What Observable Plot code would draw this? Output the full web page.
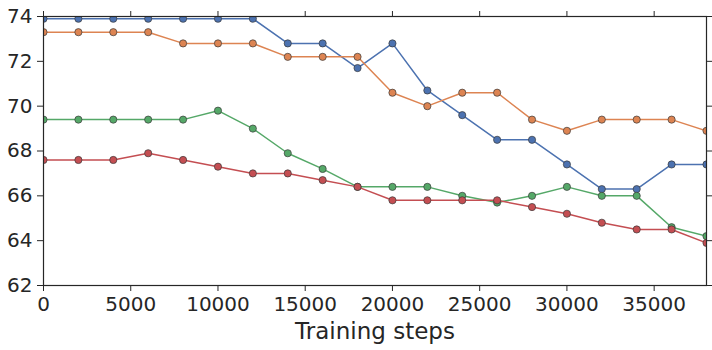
<!DOCTYPE html>
<html><head><meta charset="utf-8">
<script src="https://cdn.jsdelivr.net/npm/d3@7"></script>
<script src="https://cdn.jsdelivr.net/npm/@observablehq/plot@0.6"></script>
<style>
body{margin:0;background:#fff}
g[aria-label="x-axis label"] text{font-size:23px}
</style>
</head><body><div id="chart"></div>
<script>
const steps = [0,2000,4000,6000,8000,10000,12000,14000,16000,18000,20000,22000,24000,26000,28000,30000,32000,34000,36000,38000];
const seriesA = [73.9,73.9,73.9,73.9,73.9,73.9,73.9,72.8,72.8,71.7,72.8,70.7,69.6,68.5,68.5,67.4,66.3,66.3,67.4,67.4];
const seriesB = [73.3,73.3,73.3,73.3,72.8,72.8,72.8,72.2,72.2,72.2,70.6,70.0,70.6,70.6,69.4,68.9,69.4,69.4,69.4,68.9];
const seriesC = [69.4,69.4,69.4,69.4,69.4,69.8,69.0,67.9,67.2,66.4,66.4,66.4,66.0,65.7,66.0,66.4,66.0,66.0,64.6,64.2];
const seriesD = [67.6,67.6,67.6,67.9,67.6,67.3,67.0,67.0,66.7,66.4,65.8,65.8,65.8,65.8,65.5,65.2,64.8,64.5,64.5,63.9];
const seriesNames  = ["S1","S2","S3","S4"];
const seriesColors = ["#4C72B0","#DD8452","#55A868","#C44E52"];
const xTicks = [0,5000,10000,15000,20000,25000,30000,35000];
const yTicks = [62,64,66,68,70,72,74];

const valuesBySeries = [seriesA, seriesB, seriesC, seriesD];
const seriesMarks = [];
valuesBySeries.forEach((vals, i) => {
  const rows = steps.map((s, j) => ({step: s, value: vals[j], series: seriesNames[i]}));
  seriesMarks.push(Plot.line(rows, {x: "step", y: "value", stroke: "series", strokeWidth: 1.5, clip: true}));
  seriesMarks.push(Plot.dot(rows, {x: "step", y: "value", fill: "series", stroke: "#3a3a3a", strokeWidth: 0.7, r: 3.6, clip: true}));
});

const chart = Plot.plot({
  width: 712, height: 350,
  marginLeft: 43, marginRight: 6, marginTop: 16, marginBottom: 65,
  x: {domain: [0, 38000]},
  y: {domain: [62, 74]},
  color: {type: "ordinal", domain: seriesNames, range: seriesColors},
  style: {fontFamily: "DejaVu Sans", fontSize: "20px", color: "#262626", background: "#fff"},
  marks: [
    ...seriesMarks,
    Plot.frame({stroke: "#262626", strokeWidth: 1.2}),
    Plot.axisX({anchor: "bottom", ticks: xTicks, tickSize: 6, tickPadding: 5, fontSize: 20, tickFormat: d3.format("d"), label: "Training steps", labelAnchor: "center", labelArrow: "none", labelOffset: 53, stroke: "#262626"}),
    Plot.axisX({anchor: "top", ticks: xTicks, tickSize: 6, tickFormat: () => "", label: null, stroke: "#262626"}),
    Plot.axisY({anchor: "left", ticks: yTicks, tickSize: 6, tickPadding: 5, fontSize: 20, tickFormat: d3.format("d"), label: null, stroke: "#262626"}),
    Plot.axisY({anchor: "right", ticks: yTicks, tickSize: 6, tickFormat: () => "", label: null, stroke: "#262626"})
  ]
});
document.getElementById("chart").appendChild(chart);
</script>
</body></html>
